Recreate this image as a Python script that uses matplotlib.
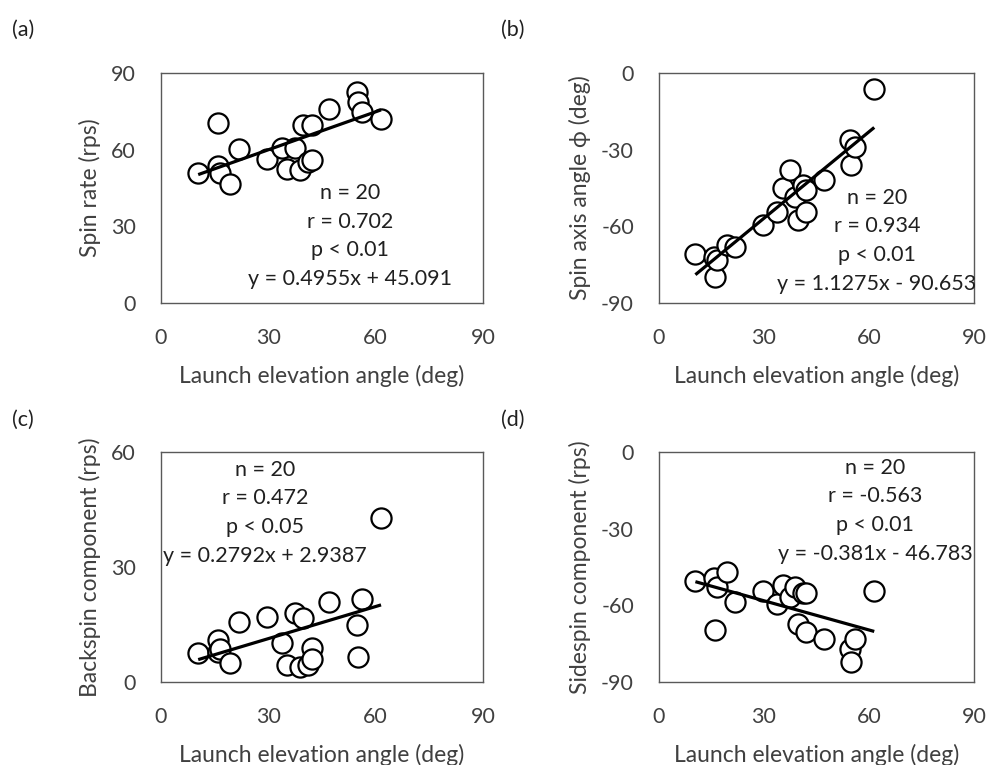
import matplotlib
matplotlib.use("Agg")
import matplotlib.pyplot as plt
import numpy as np

plt.rcParams['font.family'] = ['Lato', 'DejaVu Sans']
plt.rcParams['axes.unicode_minus'] = False

# Launch elevation angle (deg), shared by all panels
launch_angle = [10.4, 15.8, 16.0, 16.5, 19.3, 21.8, 29.7, 33.7, 35.3, 37.5,
                38.8, 39.8, 41.2, 42.1, 42.1, 47.0, 54.7, 55.0, 56.1, 61.5]

spin_rate = [51.0, 70.3, 53.6, 51.0, 46.6, 60.2, 56.2, 60.5, 52.3, 60.5,
             52.0, 69.6, 55.3, 69.6, 55.9, 75.8, 82.7, 78.8, 74.9, 71.9]

spin_axis = [-71.0, -71.9, -79.7, -73.0, -67.3, -68.0, -59.5, -54.3, -45.1, -38.0,
             -48.4, -57.5, -43.8, -54.3, -45.8, -41.9, -26.2, -36.0, -29.1, -6.3]

backspin = [7.5, 11.0, 7.9, 8.5, 5.0, 15.7, 17.0, 10.1, 4.4, 17.9,
            4.0, 16.6, 4.5, 8.8, 5.9, 20.8, 14.9, 6.4, 21.6, 42.9]

sidespin = [-50.5, -49.4, -69.7, -52.7, -46.9, -58.8, -54.3, -59.6, -52.0, -56.6,
            -52.7, -67.3, -55.3, -70.6, -55.3, -73.3, -77.2, -82.1, -73.2, -54.4]

panel_labels = ['(a)', '(b)', '(c)', '(d)']
y_labels = ['Spin rate (rps)', 'Spin axis angle \u03d5 (deg)',
            'Backspin component (rps)', 'Sidespin component (rps)']
x_label = 'Launch elevation angle (deg)'
x_ticks = [0, 30, 60, 90]
y_ticks = [[0, 30, 60, 90], [-90, -60, -30, 0], [0, 30, 60], [-90, -60, -30, 0]]
slopes = [0.4955, 1.1275, 0.2792, -0.381]
intercepts = [45.091, -90.653, 2.9387, -46.783]
stats = [
    ['n = 20', 'r = 0.702', 'p < 0.01', 'y = 0.4955x + 45.091'],
    ['n = 20', 'r = 0.934', 'p < 0.01', 'y = 1.1275x - 90.653'],
    ['n = 20', 'r = 0.472', 'p < 0.05', 'y = 0.2792x + 2.9387'],
    ['n = 20', 'r = -0.563', 'p < 0.01', 'y = -0.381x - 46.783'],
]
series = [spin_rate, spin_axis, backspin, sidespin]

W, H = 987, 765
fig = plt.figure(figsize=(W / 100, H / 100), dpi=100)

# axes boxes in pixels: left, top, right, bottom
boxes = [(161, 73, 483, 303), (659, 73, 974, 303),
         (161, 452, 483, 682), (659, 452, 974, 682)]
# stats text: center x, first line y (pixels)
text_pos = [(350, 193), (877, 198), (265, 470), (875, 468)]
panel_pos = [(23, 30), (513, 30), (23, 420), (513, 420)]
ylabel_x = [90, 580, 90, 580]

tick_color = '#404040'
fs_tick = 15.5
fs_lab = 16.5
fs_txt = 15.5

for i in range(4):
    l, t, r, b = boxes[i]
    ax = fig.add_axes([l / W, 1 - b / H, (r - l) / W, (b - t) / H])
    x = np.array(launch_angle)
    y = np.array(series[i])
    ax.scatter(x, y, s=14.5 ** 2, facecolor='white', edgecolor='black',
               linewidth=1.6, zorder=3, clip_on=False)
    xl = np.array([x.min(), x.max()])
    ax.plot(xl, slopes[i] * xl + intercepts[i], color='black', lw=2.3,
            zorder=4, solid_capstyle='butt')
    ax.set_xlim(0, 90)
    ax.set_ylim(min(y_ticks[i]), max(y_ticks[i]))
    ax.set_xticks(x_ticks)
    ax.set_yticks(y_ticks[i])
    ax.tick_params(length=0, labelsize=fs_tick, colors=tick_color, pad=18)
    for s in ax.spines.values():
        s.set_color('#595959')
        s.set_linewidth(1.0)
    ax.set_xlabel(x_label, fontsize=fs_lab, color=tick_color, labelpad=12)
    fig.text(ylabel_x[i] / W, 1 - ((t + b) / 2) / H, y_labels[i], rotation=90,
             ha='center', va='center', fontsize=fs_lab, color=tick_color)
    cx, cy = text_pos[i]
    for k, line in enumerate(stats[i]):
        fig.text(cx / W, 1 - (cy + k * 28.5) / H, line, ha='center', va='center',
                 fontsize=fs_txt, color='#202020', zorder=5)
    px, py = panel_pos[i]
    fig.text(px / W, 1 - py / H, panel_labels[i], ha='center', va='center',
             fontsize=fs_txt, color='#202020')

fig.savefig('out.png', dpi=100)
